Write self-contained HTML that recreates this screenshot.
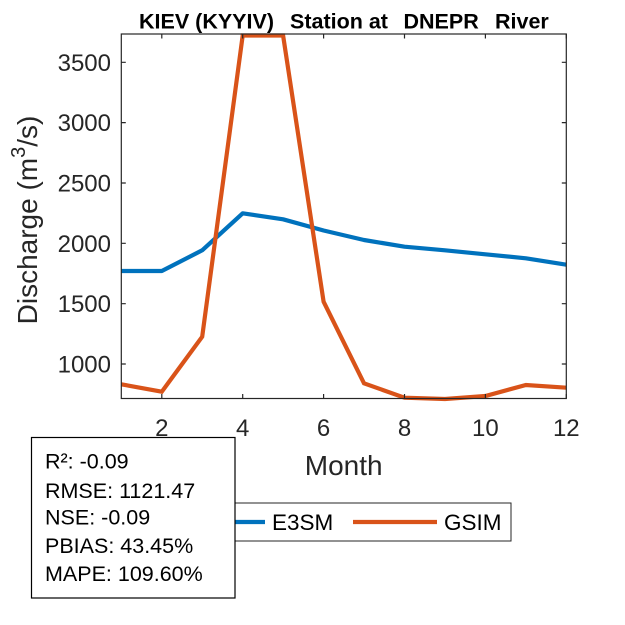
<!DOCTYPE html>
<html>
<head>
<meta charset="utf-8">
<style>
html,body{margin:0;padding:0;background:#fff;}
svg{display:block;}
text{font-family:"Liberation Sans",Arial,sans-serif;}
</style>
</head>
<body>
<svg width="625" height="625" viewBox="0 0 625 625" xmlns="http://www.w3.org/2000/svg">
<rect x="0" y="0" width="625" height="625" fill="#fff"/>

<!-- Title -->
<g font-weight="bold" font-size="21.5" fill="#000">
<text x="139" y="28.5">KIEV (KYYIV)</text>
<text x="290" y="28.5">Station at</text>
<text x="403.5" y="28.5">DNEPR</text>
<text x="495" y="28.5">River</text>
</g>

<!-- series -->
<polyline fill="none" stroke="#0072BD" stroke-width="4.2" stroke-linejoin="round"
points="121.3,271 161.8,271 202.2,250.3 242.7,213.3 283.1,219.3 323.6,230.5 364,240 404.5,246.7 445,250.3 485.4,254.3 525.9,258.3 566.3,264.7"/>
<polyline fill="none" stroke="#D95319" stroke-width="4.2" stroke-linejoin="miter"
points="121.3,384.3 161.8,391.7 202.2,336.7 242.7,35.5 283.1,35.5 323.6,301.7 364,383.3 404.5,397.7 445,399 485.4,396 525.9,385 566.3,387.7"/>

<!-- axes box -->
<g stroke="#262626" stroke-width="1.2" fill="none">
<rect x="121.3" y="34" width="445" height="364.5"/>
<path d="M161.8,398.5v-4.5M242.7,398.5v-4.5M323.6,398.5v-4.5M404.5,398.5v-4.5M485.4,398.5v-4.5M566.3,398.5v-4.5
M161.8,34v4.5M242.7,34v4.5M323.6,34v4.5M404.5,34v4.5M485.4,34v4.5M566.3,34v4.5"/>
<path d="M121.3,364h4.5M121.3,303.7h4.5M121.3,243.3h4.5M121.3,183h4.5M121.3,122.6h4.5M121.3,62.3h4.5
M566.3,364h-4.5M566.3,303.7h-4.5M566.3,243.3h-4.5M566.3,183h-4.5M566.3,122.6h-4.5M566.3,62.3h-4.5"/>
</g>

<!-- y tick labels -->
<g font-size="24" fill="#262626" text-anchor="end">
<text x="111" y="372.5">1000</text>
<text x="111" y="312.2">1500</text>
<text x="111" y="251.8">2000</text>
<text x="111" y="191.5">2500</text>
<text x="111" y="131.1">3000</text>
<text x="111" y="70.8">3500</text>
</g>

<!-- x tick labels -->
<g font-size="24" fill="#262626" text-anchor="middle">
<text x="161.8" y="436">2</text>
<text x="242.7" y="436">4</text>
<text x="323.6" y="436">6</text>
<text x="404.5" y="436">8</text>
<text x="485.4" y="436">10</text>
<text x="566.3" y="436">12</text>
</g>

<!-- axis labels -->
<text x="343.7" y="475" font-size="28" fill="#262626" text-anchor="middle">Month</text>
<text transform="translate(37,220) rotate(-90)" font-size="28" fill="#262626" text-anchor="middle">Discharge (m<tspan font-size="20" dy="-12">3</tspan><tspan dy="12">/s)</tspan></text>

<!-- legend -->
<rect x="172" y="503" width="339" height="38" fill="#fff" stroke="#262626" stroke-width="1"/>
<line x1="181" y1="522" x2="265" y2="522" stroke="#0072BD" stroke-width="4.2"/>
<text x="272" y="530" font-size="22.5" fill="#000">E3SM</text>
<line x1="353" y1="522" x2="437" y2="522" stroke="#D95319" stroke-width="4.2"/>
<text x="444" y="530" font-size="22.5" fill="#000">GSIM</text>

<!-- stats text box -->
<rect x="31.5" y="437.5" width="203.5" height="160.5" fill="#fff" stroke="#000" stroke-width="1.2"/>
<g font-size="21.5" fill="#000">
<text x="45" y="468.5">R²: -0.09</text>
<text x="45" y="498">RMSE: 1121.47</text>
<text x="45" y="524.5">NSE: -0.09</text>
<text x="45" y="553">PBIAS: 43.45%</text>
<text x="45" y="581">MAPE: 109.60%</text>
</g>
</svg>
</body>
</html>
